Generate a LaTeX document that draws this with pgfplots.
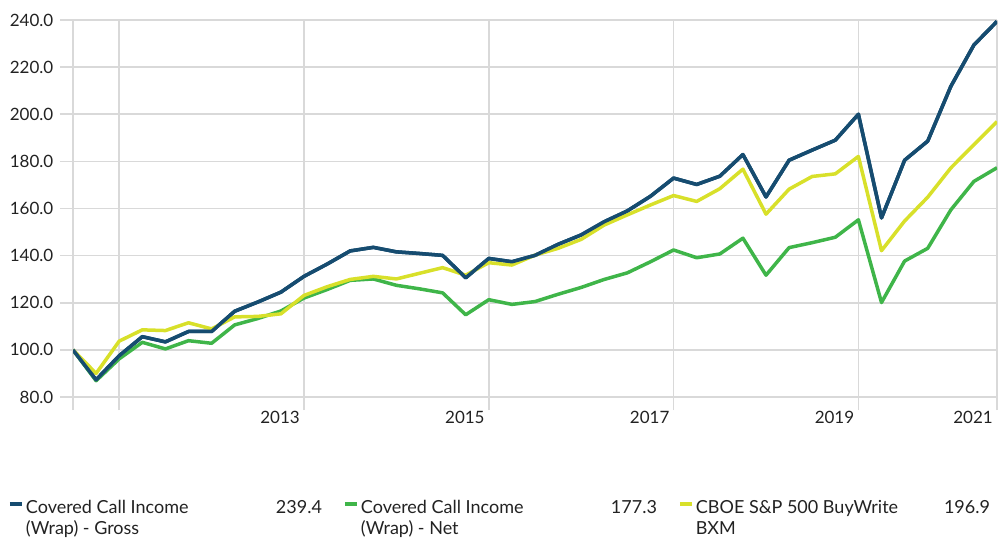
\documentclass[border=0pt]{standalone}
\usepackage{pgfplots}
\pgfplotsset{compat=1.18}
\usepackage{fontspec}
\setmainfont{Lato}
\usepackage{array}
\definecolor{cgross}{RGB}{22,76,112}
\definecolor{cnet}{RGB}{63,181,73}
\definecolor{cbxm}{RGB}{216,224,42}
\definecolor{cgrid}{RGB}{217,217,217}
\definecolor{ctext}{RGB}{34,34,34}
\newcommand{\tfont}{\fontsize{17pt}{21pt}\selectfont}
\newcommand{\lfont}{\fontsize{18pt}{21pt}\selectfont}
\pgfplotstableread{
i gross net bxm
0 100.0 100.0 100.0
1 87.3 86.9 90.0
2 97.5 96.2 103.7
3 105.6 103.2 108.5
4 103.4 100.4 108.2
5 107.8 103.9 111.5
6 107.8 102.8 108.9
7 116.4 110.6 114.0
8 120.3 113.3 114.2
9 124.5 116.5 115.3
10 131.2 122.0 123.1
11 136.4 125.6 126.8
12 142.0 129.5 129.9
13 143.5 130.1 131.2
14 141.6 127.4 130.1
15 140.9 125.9 132.5
16 140.1 124.2 134.9
17 130.6 114.9 131.7
18 138.8 121.3 137.0
19 137.4 119.3 136.0
20 140.1 120.5 140.2
21 144.8 123.6 143.1
22 148.8 126.5 146.9
23 154.4 129.9 153.0
24 159.0 132.7 157.3
25 165.2 137.4 161.5
26 172.9 142.4 165.5
27 170.2 139.1 163.0
28 173.7 140.7 168.4
29 182.9 147.4 176.7
30 164.9 131.7 157.6
31 180.5 143.4 168.2
32 184.8 145.5 173.6
33 189.0 147.8 174.7
34 200.0 155.2 182.1
35 156.0 120.1 142.1
36 180.5 137.7 154.7
37 188.6 143.1 164.8
38 211.8 159.4 177.2
39 229.4 171.5 187.1
40 239.4 177.3 196.9
}\datatable
\begin{document}
\begin{tikzpicture}
\path[use as bounding box] (0pt,0pt) rectangle (1008pt,538pt);
\begin{axis}[
  at={(73pt,141pt)}, anchor=south west,
  scale only axis, width=924pt, height=377pt,
  xmin=0, xmax=40, ymin=80, ymax=240,
  xtick={0,2,10,18,26,34,40},
  xticklabels={,,2013,2015,2017,2019,2021},
  ytick={80,100,...,240},
  grid=major,
  grid style={cgrid, line width=1.6pt},
  axis line style={draw=none},
  tick pos=left, tick align=outside,
  major tick length=13pt,
  tick style={cgrid, line width=1.6pt},
  /pgf/number format/assume math mode=true,
  yticklabel style={/pgf/number format/.cd, fixed, fixed zerofill, precision=1, /tikz/.cd, font=\tfont, text=ctext, anchor=east, inner sep=0pt, xshift=-6.5pt},
  xticklabel style={font=\tfont, text=ctext, anchor=north east, inner sep=0pt, xshift=-4pt, yshift=-1pt},
  legend style={at={(axis description cs:-0.0704,-0.2690)}, anchor=north west, draw=none, fill=none,
    inner sep=0pt, outer sep=0pt,
    legend columns=3, font=\lfont, text=ctext, nodes={inner sep=0pt, outer sep=0pt},
    /tikz/every odd column/.append style={column sep=2pt},
    /tikz/every even column/.append style={column sep=21pt}},
  legend cell align=left,
  legend image code/.code={\draw[#1, line width=4pt] (0pt,2.5pt) -- (12pt,2.5pt);},
  every axis plot/.append style={line width=3.5pt, line join=round},
]
\addplot[cgross] table[x=i, y=gross] {\datatable};
\addlegendentry{\begin{tabular}[t]{@{}p{296pt}@{}}Covered Call Income\hfill 239.4\\(Wrap) - Gross\end{tabular}}
\addplot[cnet] table[x=i, y=net] {\datatable};
\addlegendentry{\begin{tabular}[t]{@{}p{296pt}@{}}Covered Call Income\hfill 177.3\\(Wrap) - Net\end{tabular}}
\addplot[cbxm] table[x=i, y=bxm] {\datatable};
\addlegendentry{\begin{tabular}[t]{@{}p{294pt}@{}}CBOE S\&P 500 BuyWrite\hfill 196.9\\BXM\end{tabular}}
\addplot[cgross, forget plot] table[x=i, y=gross] {\datatable};
\end{axis}
\end{tikzpicture}
\end{document}
